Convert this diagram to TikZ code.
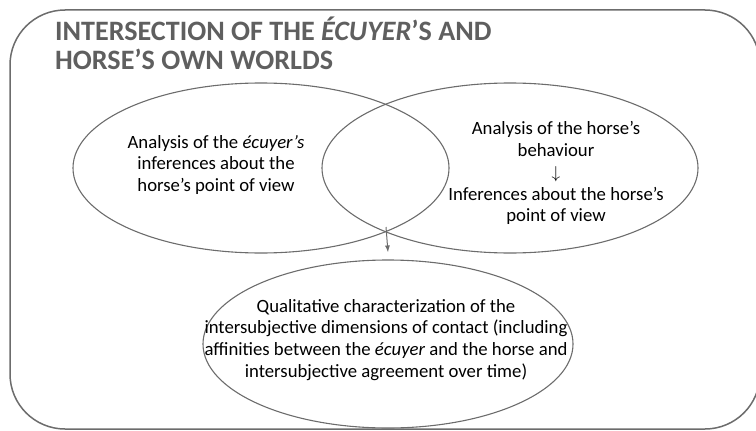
\documentclass[tikz,border=0pt]{standalone}
\usepackage{fontspec}
\setmainfont{Carlito}
\usetikzlibrary{shapes.geometric,arrows.meta,positioning}

\definecolor{edgegray}{RGB}{108,108,108}
\definecolor{titlegray}{RGB}{95,95,95}

\tikzset{
  world/.style={ellipse,draw=edgegray,line width=1.1bp,minimum width=376bp,
    minimum height=170bp,inner sep=0pt},
  worldtext/.style={align=center,font=\fontsize{18.8}{22}\selectfont,text=black},
  flow/.style={draw=edgegray,line width=1bp,-{Latex[length=7bp,width=5bp]}}
}

\begin{document}
\begin{tikzpicture}[x=1bp,y=1bp]
  \clip (0,0) rectangle (756,430);
  \draw[edgegray,line width=1.5bp,rounded corners=55bp] (10,1) rectangle (760,420);

  \node[anchor=north west,align=left,inner sep=0pt,text=titlegray,
    font=\fontsize{28.2}{29}\selectfont\bfseries] (title) at (55,413)
    {INTERSECTION OF THE \textit{ÉCUYER}’S AND\\HORSE’S OWN WORLDS};

  \node[world] (ecuyer) at (261,262) {};
  \node[world] (horse) at (510,262) {};
  \node[world,minimum width=370bp,minimum height=168bp] (contact) at (388,86) {};

  \node[worldtext] (ecuyertext) at ([xshift=-45bp,yshift=3bp]ecuyer.center)
    {Analysis of the \textit{écuyer’s}\\inferences about the\\horse’s point of view};
  \node[worldtext] (horsetext) at ([xshift=46bp,yshift=-5bp]horse.center)
    {Analysis of the horse’s\\behaviour\\$\downarrow$\\Inferences about the horse’s\\point of view};
  \node[worldtext] (contacttext) at ([xshift=-2bp,yshift=4bp]contact.center)
    {Qualitative characterization of the\\intersubjective dimensions of contact (including\\affinities between the \textit{écuyer} and the horse and\\intersubjective agreement over time)};

  \coordinate (meet) at (386,198);
  \draw[flow] ([yshift=5bp]meet) -- ([yshift=7bp]contact.north);
\end{tikzpicture}
\end{document}
